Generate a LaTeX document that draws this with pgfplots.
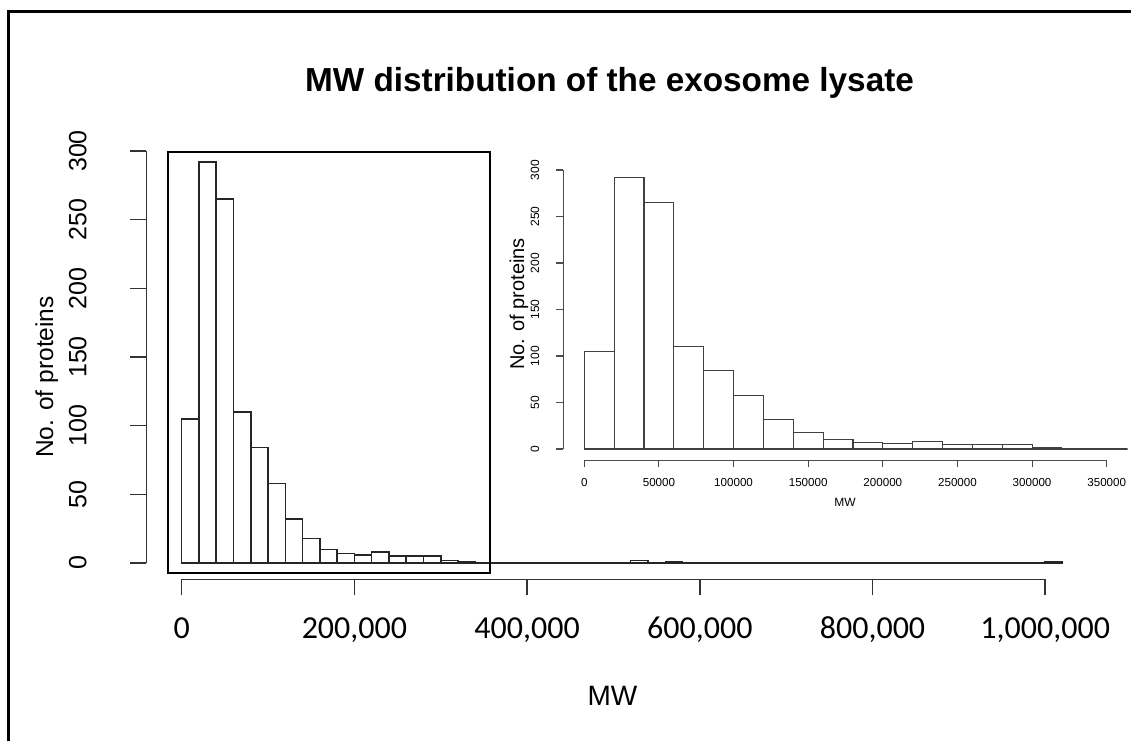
\documentclass[border=0pt]{standalone}
\usepackage{pgfplots}
\pgfplotsset{compat=1.18}
\usepackage{pgfplotstable}
\usepackage{fontspec}
\setmainfont{Liberation Sans}
\newfontfamily\calibri{Carlito}

% Histogram of protein molecular weights, 20,000-wide bins (left edge, count).
% The last row only closes the final interval.
\pgfplotstableread{
left count
0 105
20000 292
40000 265
60000 110
80000 84
100000 58
120000 32
140000 18
160000 10
180000 7
200000 6
220000 8
240000 5
260000 5
280000 5
300000 2
320000 1
340000 0
360000 0
380000 0
400000 0
420000 0
440000 0
460000 0
480000 0
500000 0
520000 2
540000 0
560000 1
580000 0
600000 0
620000 0
640000 0
660000 0
680000 0
700000 0
720000 0
740000 0
760000 0
780000 0
800000 0
820000 0
840000 0
860000 0
880000 0
900000 0
920000 0
940000 0
960000 0
980000 0
1000000 1
1020000 0
}\mwbins

\begin{document}
\begin{tikzpicture}[x=1pt,y=1pt]
\useasboundingbox (0,0) rectangle (1131,-740);
% white page background, a little larger than the page itself
\fill[white] (-6,6) rectangle (1137,-746);
% page frame
\draw[line width=2.6pt] (8.7,-746) -- (8.7,-11.7) -- (1137,-11.7);

\node[anchor=base, font=\bfseries\fontsize{33.3}{40}\selectfont] at (609.5,-91.7)
  {MW distribution of the exosome lysate};

% ---- full range histogram ----
\begin{axis}[
  at={(146.47pt,-579.48pt)}, anchor=south west, scale only axis,
  width=951.23pt, height=444.95pt,
  xmin=-40800, xmax=1060800, ymin=-12, ymax=312,
  axis x line*=bottom, axis y line*=left,
  axis line style={draw=none},
  scaled ticks=false,
  tick align=outside, major tick length=16pt,
  tick style={line width=1.5pt, draw=black!80},
  xtick={0,200000,400000,600000,800000,1000000},
  xticklabels={0,{200,000},{400,000},{600,000},{800,000},{1,000,000}},
  ytick={0,50,100,150,200,250,300},
  yticklabels={0,50,100,150,200,250,300},
  xticklabel style={font=\calibri\fontsize{32}{38}\selectfont, anchor=base, yshift=-43pt},
  yticklabel style={font=\fontsize{25}{30}\selectfont, xshift=-44pt, rotate=90, anchor=base},
  clip=false,
]
\addplot[ybar interval, fill=white, draw=black!85, line width=1.5pt]
  table[x=left, y=count]{\mwbins};
\draw[line width=1.5pt, black!80] (axis cs:0,-12) -- (axis cs:1000000,-12);
\draw[line width=1.5pt, black!80] (axis cs:-40800,0) -- (axis cs:-40800,300);
% box around the zoomed region
\draw[line width=2.5pt] (axis cs:-16000,-7.3) rectangle (axis cs:357000,299.3);
\end{axis}

\node[anchor=base, rotate=90, font=\fontsize{24.5}{30}\selectfont] at (53,-377) {No. of proteins};
\node[anchor=base, font=\fontsize{28}{34}\selectfont] at (612.5,-705) {MW};

% ---- zoomed histogram, 0 to 350,000 ----
\begin{axis}[
  at={(563.4pt,-460.16pt)}, anchor=south west, scale only axis,
  width=564.2pt, height=301.32pt,
  xmin=-14000, xmax=364000, ymin=-12, ymax=312,
  axis x line*=bottom, axis y line*=left,
  axis line style={draw=none},
  scaled ticks=false,
  tick align=outside, major tick length=7pt,
  tick style={line width=1.1pt, draw=black!70},
  xtick={0,50000,100000,150000,200000,250000,300000,350000},
  xticklabels={0,50000,100000,150000,200000,250000,300000,350000},
  ytick={0,50,100,150,200,250,300},
  yticklabels={0,50,100,150,200,250,300},
  xticklabel style={font=\fontsize{11.6}{14}\selectfont, anchor=base, yshift=-19.3pt},
  yticklabel style={font=\fontsize{12}{14}\selectfont, xshift=-17.4pt, rotate=90, anchor=base},
  clip mode=individual,
]
\addplot[ybar interval, fill=white, draw=black!75, line width=1.1pt]
  table[x=left, y=count]{\mwbins};
\draw[line width=1.1pt, black!70] (axis cs:0,-12) -- (axis cs:350000,-12);
\draw[line width=1.1pt, black!70] (axis cs:-14000,0) -- (axis cs:-14000,300);
\end{axis}

\node[anchor=base, rotate=90, font=\fontsize{20}{24}\selectfont] at (524,-304) {No. of proteins};
\node[anchor=base, font=\fontsize{12}{14}\selectfont] at (845,-506) {MW};
\end{tikzpicture}
\end{document}
